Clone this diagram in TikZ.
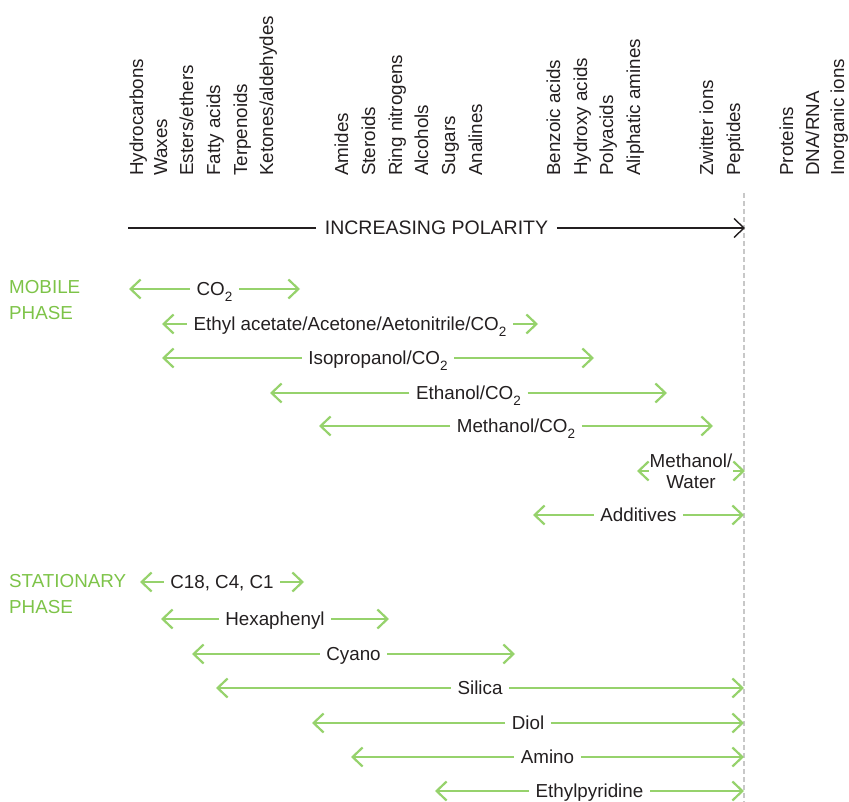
\documentclass[tikz,border=0pt]{standalone}
\usepackage{fontspec}
\setmainfont{Liberation Sans}
\usetikzlibrary{arrows.meta}
\definecolor{gArrow}{RGB}{150,210,108}
\definecolor{gText}{RGB}{125,195,72}
\definecolor{txt}{RGB}{35,31,32}
\definecolor{dashgray}{RGB}{200,200,200}
\newcommand{\cotwo}{CO\raisebox{-6pt}{\fontsize{13.5}{13.5}\selectfont 2}}
\newcommand{\grow}[5]{%
  \coordinate (#1L) at (#2,-#4);
  \coordinate (#1R) at (#3,-#4);
  \node[rowtxt] (#1) at ({(#2+#3)/2},-#4) {#5};
  \draw[garrow] (#1.west) -- (#1L);
  \draw[garrow] (#1.east) -- (#1R);
}
\tikzset{
  basefont/.style={font=\fontsize{18.8}{21}\selectfont, text=txt},
  rowtxt/.style={basefont, inner xsep=6.5pt, inner ysep=0pt, text height=13.5pt, text depth=0pt},
  garrow/.style={draw=gArrow, line width=2.2pt, -{Straight Barb[length=10pt,width=19pt]}},
  barrow/.style={draw=txt, line width=1.4pt},
  collabel/.style={basefont, rotate=90, anchor=base west, inner sep=0pt},
  phaselabel/.style={font=\fontsize{18.8}{21}\selectfont, text=gText, anchor=west, inner sep=0pt, text height=13.5pt, text depth=0pt},
}
\begin{document}
\begin{tikzpicture}[x=1pt,y=1pt]
\useasboundingbox (0,0) rectangle (849,-802);

% column labels
\node[collabel] (c1) at (143,-176) {Hydrocarbons};
\node[collabel] (c2) at (167,-176) {Waxes};
\node[collabel] (c3) at (193,-176) {Esters/ethers};
\node[collabel] (c4) at (220,-176) {Fatty acids};
\node[collabel] (c5) at (247,-176) {Terpenoids};
\node[collabel] (c6) at (273,-176) {Ketones/aldehydes};
\node[collabel] (c7) at (348,-176) {Amides};
\node[collabel] (c8) at (375,-176) {Steroids};
\node[collabel] (c9) at (402,-176) {Ring nitrogens};
\node[collabel] (c10) at (428,-176) {Alcohols};
\node[collabel] (c11) at (455,-176) {Sugars};
\node[collabel] (c12) at (482,-176) {Analines};
\node[collabel] (c13) at (560,-176) {Benzoic acids};
\node[collabel] (c14) at (587,-176) {Hydroxy acids};
\node[collabel] (c15) at (613,-176) {Polyacids};
\node[collabel] (c16) at (640,-176) {Aliphatic amines};
\node[collabel] (c17) at (713,-176) {Zwitter ions};
\node[collabel] (c18) at (740,-176) {Peptides};
\node[collabel] (c19) at (793,-176) {Proteins};
\node[collabel] (c20) at (819,-176) {DNA/RNA};
\node[collabel] (c21) at (844,-176) {Inorganic ions};

% dashed limit line
\coordinate (dTop) at (744,-193);
\coordinate (dBot) at (744,-802);
\draw[dashgray, line width=1.4pt, dash pattern=on 5pt off 3pt] (dTop) -- (dBot);

% polarity arrow
\coordinate (polL) at (128,-228);
\coordinate (polR) at (745,-228);
\node[font=\fontsize{19.5}{21}\selectfont, text=txt, inner xsep=8.5pt, inner ysep=0pt, text height=14pt, text depth=0pt] (pol) at (436.5,-228) {INCREASING POLARITY};
\draw[barrow] (pol.west) -- (polL);
\draw[barrow, -{Straight Barb[length=10pt,width=19pt]}] (pol.east) -- (polR);

% phase labels
\node[phaselabel] (mob1) at (9,-287) {MOBILE};
\node[phaselabel] (mob2) at (9,-313) {PHASE};
\node[phaselabel] (sta1) at (9,-581) {STATIONARY};
\node[phaselabel] (sta2) at (9,-607) {PHASE};

% mobile phase rows
\grow{co}{129}{300}{289}{\cotwo}
\grow{ea}{162}{538}{324}{Ethyl acetate/Acetone/Aetonitrile/\cotwo}
\grow{ip}{162}{594}{358}{Isopropanol/\cotwo}
\grow{et}{270}{667}{393}{Ethanol/\cotwo}
\grow{me}{319}{713}{426}{Methanol/\cotwo}

\coordinate (mwL) at (637,-471);
\coordinate (mwR) at (745,-471);
\node[basefont, align=center, inner xsep=1pt, inner ysep=0pt] (mw) at (691,-471) {Methanol/\\Water};
\draw[garrow] (mw.west |- mwL) -- (mwL);
\draw[garrow] (mw.east |- mwR) -- (mwR);

\grow{ad}{533}{744}{515}{Additives}

% stationary phase rows
\grow{cc}{140}{304}{582}{C18, C4, C1}
\grow{hx}{161}{389}{619}{Hexaphenyl}
\grow{cy}{192}{515}{654}{Cyano}
\grow{si}{216}{744}{688}{Silica}
\grow{di}{312}{744}{723}{Diol}
\grow{am}{351}{744}{757}{Amino}
\grow{ep}{435}{744}{791}{Ethylpyridine}
\end{tikzpicture}
\end{document}
